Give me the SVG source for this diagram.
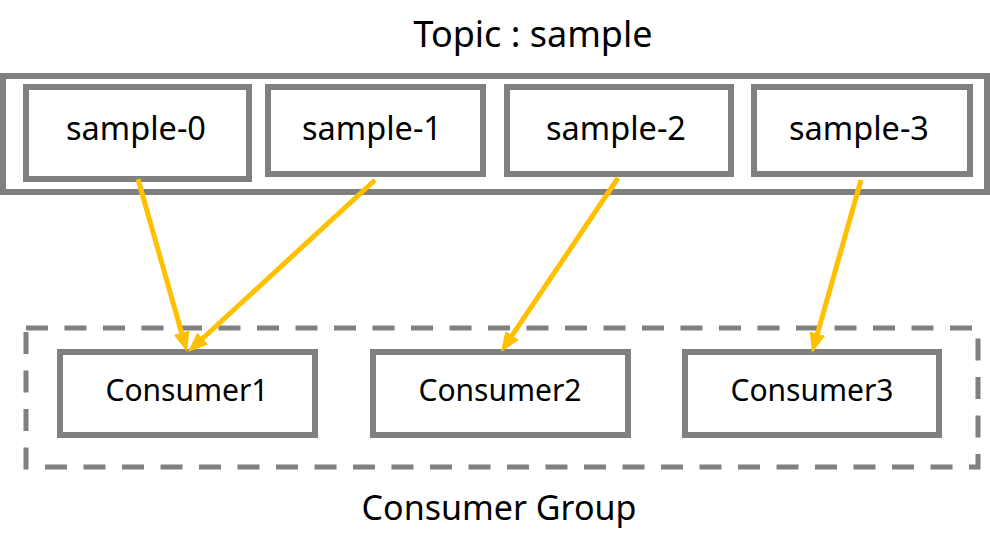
<svg xmlns="http://www.w3.org/2000/svg" width="990" height="560" viewBox="0 0 990 560">
<style>
.box{fill:#fff;stroke:#808080;stroke-width:6}
.grp{fill:none;stroke:#808080;stroke-width:5;stroke-dasharray:22 16.5}
.lbl{font-family:"Noto Sans","Open Sans",sans-serif;fill:#000;text-anchor:middle}
.conn{fill:none;stroke:#FFC000;stroke-width:5;marker-end:url(#ah)}
</style>
<defs>
<marker id="ah" markerUnits="userSpaceOnUse" viewBox="0 0 20 16" markerWidth="20" markerHeight="16" refX="6" refY="8" orient="auto">
<path d="M0,0 L20,8 L0,16 z" fill="#FFC000"/>
</marker>
</defs>
<rect width="990" height="560" fill="#fff"/>
<g id="topic">
<text class="lbl" x="533" y="47" font-size="36">Topic : sample</text>
<rect class="box" x="3" y="76" width="984" height="116"/>
</g>
<g id="sample-0">
<rect class="box" x="26" y="87" width="223" height="92"/>
<text class="lbl" x="136" y="140" font-size="32.5">sample-0</text>
</g>
<g id="sample-1">
<rect class="box" x="268" y="87" width="215" height="87"/>
<text class="lbl" x="372" y="140" font-size="32.5">sample-1</text>
</g>
<g id="sample-2">
<rect class="box" x="507" y="87" width="224" height="87"/>
<text class="lbl" x="616" y="140" font-size="32.5">sample-2</text>
</g>
<g id="sample-3">
<rect class="box" x="754" y="87" width="216" height="87"/>
<text class="lbl" x="859" y="140" font-size="32.5">sample-3</text>
</g>
<g id="consumer-group">
<rect class="grp" x="26" y="328" width="952" height="139"/>
<text class="lbl" x="499" y="520" font-size="34">Consumer Group</text>
</g>
<g id="consumer1">
<rect class="box" x="60" y="352" width="255" height="83"/>
<text class="lbl" x="187" y="401" font-size="30">Consumer1</text>
</g>
<g id="consumer2">
<rect class="box" x="373" y="352" width="255" height="83"/>
<text class="lbl" x="500" y="401" font-size="30">Consumer2</text>
</g>
<g id="consumer3">
<rect class="box" x="685" y="352" width="254" height="83"/>
<text class="lbl" x="812" y="401" font-size="30">Consumer3</text>
</g>
<g id="connectors">
<line class="conn" x1="138" y1="179" x2="183.2" y2="338.5"/>
<line class="conn" x1="375" y1="180" x2="198.3" y2="342.5"/>
<line class="conn" x1="618" y1="178" x2="508.8" y2="340.4"/>
<line class="conn" x1="861" y1="180" x2="815.8" y2="339.5"/>
</g>
</svg>
